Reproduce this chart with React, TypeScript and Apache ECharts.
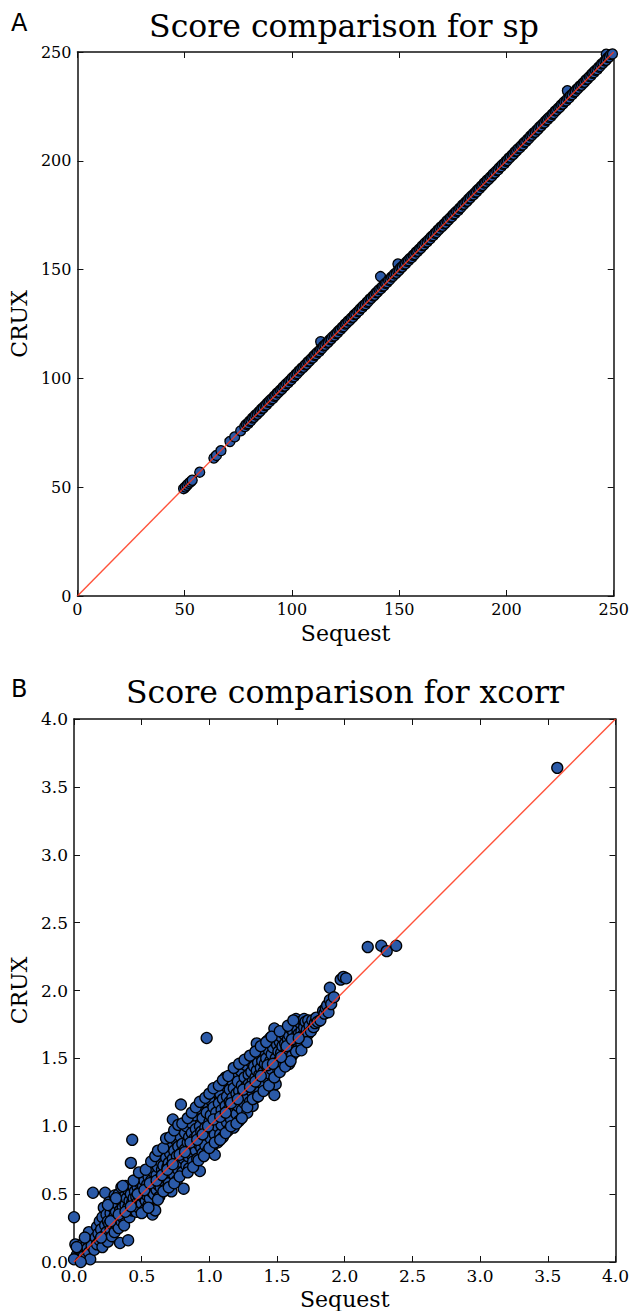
import React, { useEffect, useRef } from 'react';
import * as echarts from 'echarts';

// ---------- Data ----------
const panelLetters = ['A', 'B'];
const titles = ['Score comparison for sp', 'Score comparison for xcorr'];
const xName = 'Sequest';
const yName = 'CRUX';

const spRange = { min: 0, max: 250, interval: 50 };
const xcorrRange = { min: 0, max: 4, interval: 0.5 };

const spLine = [[0, 0], [250, 250]];
const xcorrLine = [[0, 0], [4, 4]];

const spPoints = [
  [49.5, 49.3], [50.3, 50.1], [51.1, 50.9], [51.9, 51.8], [52.7, 52.4], [53.5, 53.2], [57.0, 56.9],
  [63.6, 63.4], [64.8, 64.6], [66.9, 66.8], [71.1, 71.0], [73.3, 73.1], [76.1, 75.9],
  [113.4, 116.9], [141.3, 146.8], [149.4, 152.6], [228.4, 232.2], [246.5, 249.0],
  [78.0, 77.8], [78.7, 78.9], [79.5, 79.2], [80.2, 80.3], [80.9, 80.6], [81.6, 81.8], [82.3, 82.1],
  [83.0, 83.2], [83.8, 83.5], [84.5, 84.6], [85.2, 84.9], [85.9, 86.1], [86.6, 86.4], [87.4, 87.5],
  [88.1, 87.8], [88.8, 89.0], [89.5, 89.3], [90.2, 90.4], [91.0, 90.7], [91.7, 91.8], [92.4, 92.1],
  [93.1, 93.3], [93.8, 93.6], [94.6, 94.7], [95.3, 95.0], [96.0, 96.2], [96.7, 96.5], [97.4, 97.6],
  [98.2, 97.9], [98.9, 99.0], [99.6, 99.3], [100.3, 100.5], [101.0, 100.8], [101.8, 101.9],
  [102.5, 102.2], [103.2, 103.4], [103.9, 103.7], [104.6, 104.8], [105.4, 105.1], [106.1, 106.2],
  [106.8, 106.5], [107.5, 107.7], [108.2, 108.0], [109.0, 109.1], [109.7, 109.4], [110.4, 110.6],
  [111.1, 110.9], [111.8, 112.0], [112.6, 112.3], [113.3, 113.4], [114.0, 113.7], [114.7, 114.9],
  [115.4, 115.2], [116.2, 116.3], [116.9, 116.6], [117.6, 117.8], [118.3, 118.1], [119.0, 119.2],
  [119.8, 119.5], [120.5, 120.6], [121.2, 120.9], [121.9, 122.1], [122.6, 122.4], [123.4, 123.5],
  [124.1, 123.8], [124.8, 125.0], [125.5, 125.3], [126.2, 126.4], [127.0, 126.7], [127.7, 127.8],
  [128.4, 128.1], [129.1, 129.3], [129.8, 129.6], [130.6, 130.7], [131.3, 131.0], [132.0, 132.2],
  [132.7, 132.5], [133.4, 133.6], [134.2, 133.9], [134.9, 135.0], [135.6, 135.3], [136.3, 136.5],
  [137.0, 136.8], [137.8, 137.9], [138.5, 138.2], [139.2, 139.4], [139.9, 139.7], [140.6, 140.8],
  [141.4, 141.1], [142.1, 142.2], [142.8, 142.5], [143.5, 143.7], [144.2, 144.0], [145.0, 145.1],
  [145.7, 145.4], [146.4, 146.6], [147.1, 146.9], [147.8, 148.0], [148.6, 148.3], [149.3, 149.4],
  [150.0, 149.7], [150.7, 150.9], [151.4, 151.2], [152.2, 152.3], [152.9, 152.6], [153.6, 153.8],
  [154.3, 154.1], [155.0, 155.2], [155.8, 155.5], [156.5, 156.6], [157.2, 156.9], [157.9, 158.1],
  [158.6, 158.4], [159.4, 159.5], [160.1, 159.8], [160.8, 161.0], [161.5, 161.3], [162.2, 162.4],
  [163.0, 162.7], [163.7, 163.8], [164.4, 164.1], [165.1, 165.3], [165.8, 165.6], [166.6, 166.7],
  [167.3, 167.0], [168.0, 168.2], [168.7, 168.5], [169.4, 169.6], [170.2, 169.9], [170.9, 171.0],
  [171.6, 171.3], [172.3, 172.5], [173.0, 172.8], [173.8, 173.9], [174.5, 174.2], [175.2, 175.4],
  [175.9, 175.7], [176.6, 176.8], [177.4, 177.1], [178.1, 178.2], [178.8, 178.5], [179.5, 179.7],
  [180.2, 180.0], [181.0, 181.1], [181.7, 181.4], [182.4, 182.6], [183.1, 182.9], [183.8, 184.0],
  [184.6, 184.3], [185.3, 185.4], [186.0, 185.7], [186.7, 186.9], [187.4, 187.2], [188.2, 188.3],
  [188.9, 188.6], [189.6, 189.8], [190.3, 190.1], [191.0, 191.2], [191.8, 191.5], [192.5, 192.6],
  [193.2, 192.9], [193.9, 194.1], [194.6, 194.4], [195.4, 195.5], [196.1, 195.8], [196.8, 197.0],
  [197.5, 197.3], [198.2, 198.4], [199.0, 198.7], [199.7, 199.8], [200.4, 200.1], [201.1, 201.3],
  [201.8, 201.6], [202.6, 202.7], [203.3, 203.0], [204.0, 204.2], [204.7, 204.5], [205.4, 205.6],
  [206.2, 205.9], [206.9, 207.0], [207.6, 207.3], [208.3, 208.5], [209.0, 208.8], [209.8, 209.9],
  [210.5, 210.2], [211.2, 211.4], [211.9, 211.7], [212.6, 212.8], [213.4, 213.1], [214.1, 214.2],
  [214.8, 214.5], [215.5, 215.7], [216.2, 216.0], [217.0, 217.1], [217.7, 217.4], [218.4, 218.6],
  [219.1, 218.9], [219.8, 220.0], [220.6, 220.3], [221.3, 221.4], [222.0, 221.7], [222.7, 222.9],
  [223.4, 223.2], [224.2, 224.3], [224.9, 224.6], [225.6, 225.8], [226.3, 226.1], [227.0, 227.2],
  [227.8, 227.5], [228.5, 228.6], [229.2, 228.9], [229.9, 230.1], [230.6, 230.4], [231.4, 231.5],
  [232.1, 231.8], [232.8, 233.0], [233.5, 233.3], [234.2, 234.4], [235.0, 234.7], [235.7, 235.8],
  [236.4, 236.1], [237.1, 237.3], [237.8, 237.6], [238.6, 238.7], [239.3, 239.0], [240.0, 240.2],
  [240.7, 240.5], [241.4, 241.6], [242.2, 241.9], [242.9, 243.0], [243.6, 243.3], [244.3, 244.5],
  [245.0, 244.8], [245.8, 245.9], [246.5, 246.2], [247.2, 247.4], [247.9, 247.7], [248.6, 248.8],
  [249.4, 249.1],
];

const xcorrPoints = [
  [0.00, 0.33], [0.01, 0.13], [0.02, 0.05], [0.03, 0.10], [0.04, 0.02], [0.05, 0.12], [0.06, 0.08],
  [0.07, 0.04], [0.08, 0.11], [0.09, 0.03], [0.10, 0.10], [0.11, 0.07], [0.12, 0.02], [0.12, 0.16],
  [0.13, 0.12], [0.14, 0.20], [0.15, 0.09], [0.11, 0.22], [0.14, 0.51], [0.08, 0.18], [0.02, 0.11],
  [0.00, 0.02], [0.05, 0.00],
  [0.16, 0.18], [0.17, 0.26], [0.17, 0.13], [0.18, 0.21], [0.19, 0.30], [0.19, 0.16], [0.20, 0.24],
  [0.21, 0.11], [0.21, 0.33], [0.22, 0.19], [0.22, 0.40], [0.23, 0.27], [0.23, 0.51], [0.24, 0.22],
  [0.24, 0.35], [0.25, 0.30], [0.25, 0.15], [0.26, 0.28], [0.26, 0.44], [0.27, 0.24], [0.27, 0.36],
  [0.28, 0.31], [0.28, 0.19], [0.29, 0.40], [0.29, 0.27], [0.30, 0.34], [0.30, 0.22], [0.30, 0.49],
  [0.31, 0.37], [0.31, 0.28], [0.32, 0.43], [0.32, 0.32], [0.33, 0.25], [0.33, 0.50], [0.34, 0.38],
  [0.34, 0.14], [0.35, 0.45], [0.35, 0.30], [0.35, 0.55], [0.36, 0.40], [0.36, 0.33], [0.37, 0.48],
  [0.37, 0.27], [0.38, 0.42], [0.38, 0.56], [0.39, 0.36], [0.39, 0.47], [0.40, 0.16], [0.40, 0.40],
  [0.40, 0.53], [0.41, 0.33], [0.41, 0.45], [0.42, 0.73], [0.42, 0.50], [0.43, 0.90], [0.43, 0.38],
  [0.43, 0.44], [0.44, 0.55], [0.44, 0.47], [0.45, 0.41], [0.45, 0.52],
  [0.46, 0.37], [0.46, 0.48], [0.47, 0.55], [0.47, 0.44], [0.48, 0.51], [0.48, 0.40], [0.49, 0.46],
  [0.49, 0.58], [0.50, 0.50], [0.50, 0.43], [0.51, 0.56], [0.51, 0.48], [0.52, 0.38], [0.52, 0.60],
  [0.53, 0.52], [0.53, 0.45], [0.54, 0.57], [0.54, 0.49], [0.55, 0.63], [0.55, 0.42], [0.56, 0.54],
  [0.56, 0.47], [0.57, 0.60], [0.57, 0.52], [0.58, 0.35], [0.58, 0.57], [0.59, 0.50], [0.59, 0.66],
  [0.60, 0.38], [0.60, 0.59],
  [0.61, 0.64], [0.61, 0.53], [0.62, 0.70], [0.62, 0.57], [0.63, 0.48], [0.63, 0.75], [0.64, 0.62],
  [0.64, 0.55], [0.65, 0.68], [0.65, 0.80], [0.66, 0.60], [0.66, 0.71], [0.67, 0.53], [0.67, 0.65],
  [0.68, 0.77], [0.68, 0.62], [0.69, 0.70], [0.69, 0.86], [0.70, 0.58], [0.70, 0.73], [0.71, 0.66],
  [0.71, 0.80], [0.72, 0.52], [0.72, 0.71], [0.73, 1.05], [0.73, 0.76], [0.74, 0.64], [0.74, 0.82],
  [0.75, 0.70], [0.75, 0.90],
  [0.76, 0.60], [0.76, 0.78], [0.77, 0.85], [0.77, 0.68], [0.78, 0.74], [0.78, 0.93], [0.79, 1.16],
  [0.79, 0.80], [0.80, 0.66], [0.80, 0.87], [0.81, 0.54], [0.81, 0.76], [0.82, 0.95], [0.82, 0.83],
  [0.83, 0.71], [0.83, 1.00], [0.84, 0.88], [0.84, 0.78], [0.85, 0.92], [0.85, 0.69], [0.86, 0.84],
  [0.86, 1.03], [0.87, 0.79], [0.87, 0.95], [0.88, 0.87], [0.88, 0.74], [0.89, 1.08], [0.89, 0.91],
  [0.90, 0.82], [0.90, 0.98],
  [0.91, 0.76], [0.91, 0.93], [0.92, 1.13], [0.92, 0.87], [0.93, 0.67], [0.93, 1.00], [0.94, 0.84],
  [0.94, 0.96], [0.95, 1.06], [0.95, 0.80], [0.96, 0.92], [0.96, 1.18], [0.97, 0.99], [0.97, 0.86],
  [0.98, 1.65], [0.98, 1.10], [0.99, 0.95], [0.99, 0.82], [1.00, 1.03], [1.00, 1.20], [1.01, 0.91],
  [1.01, 1.08], [1.02, 0.98], [1.02, 0.85], [1.03, 1.14], [1.03, 1.02], [1.04, 0.79], [1.04, 0.94],
  [1.05, 1.10], [1.05, 1.25],
  [1.06, 1.00], [1.06, 0.88], [1.07, 1.17], [1.07, 1.06], [1.08, 0.94], [1.08, 1.24], [1.09, 1.12],
  [1.09, 1.01], [1.10, 1.20], [1.10, 0.92], [1.11, 1.08], [1.11, 1.30], [1.12, 1.36], [1.12, 1.15],
  [1.13, 1.03], [1.13, 1.22], [1.14, 0.97], [1.14, 1.12], [1.15, 1.27], [1.15, 1.18], [1.16, 1.05],
  [1.16, 1.34], [1.17, 1.21], [1.17, 1.12], [1.18, 0.99], [1.18, 1.28], [1.19, 1.16], [1.19, 1.40],
  [1.20, 1.09], [1.20, 1.24],
  [1.21, 1.33], [1.21, 1.15], [1.22, 1.26], [1.22, 1.04], [1.23, 1.20], [1.23, 1.41], [1.24, 1.30],
  [1.24, 1.12], [1.25, 1.47], [1.25, 1.24], [1.26, 1.17], [1.26, 1.36], [1.27, 1.29], [1.27, 1.45],
  [1.28, 1.10], [1.28, 1.22], [1.29, 1.38], [1.29, 1.31], [1.30, 1.18], [1.30, 1.48], [1.31, 1.26],
  [1.31, 1.40], [1.32, 1.33], [1.32, 1.15], [1.33, 1.44], [1.33, 1.28], [1.34, 1.36], [1.34, 1.21],
  [1.35, 1.61], [1.35, 1.41],
  [1.36, 1.30], [1.36, 1.47], [1.37, 1.38], [1.37, 1.25], [1.38, 1.52], [1.38, 1.43], [1.39, 1.34],
  [1.39, 1.48], [1.40, 1.40], [1.40, 1.30], [1.41, 1.55], [1.41, 1.46], [1.42, 1.36], [1.42, 1.50],
  [1.43, 1.63], [1.43, 1.43], [1.44, 1.39], [1.44, 1.56], [1.45, 1.65], [1.45, 1.48], [1.46, 1.42],
  [1.46, 1.53], [1.47, 1.33], [1.47, 1.58], [1.48, 1.72], [1.48, 1.23], [1.49, 1.50], [1.49, 1.31],
  [1.50, 1.45], [1.50, 1.60],
  [1.51, 1.55], [1.51, 1.41], [1.52, 1.62], [1.52, 1.49], [1.53, 1.66], [1.53, 1.54], [1.54, 1.45],
  [1.54, 1.59], [1.55, 1.68], [1.55, 1.52], [1.56, 1.61], [1.56, 1.48], [1.57, 1.57], [1.57, 1.70],
  [1.58, 1.64], [1.58, 1.53], [1.59, 1.46], [1.59, 1.67], [1.60, 1.58], [1.60, 1.72], [1.61, 1.62],
  [1.61, 1.52], [1.62, 1.69], [1.62, 1.60], [1.63, 1.75], [1.63, 1.57], [1.64, 1.66], [1.64, 1.79],
  [1.65, 1.62], [1.65, 1.71],
  [1.66, 1.58], [1.66, 1.68], [1.67, 1.76], [1.67, 1.64], [1.68, 1.70], [1.68, 1.60], [1.69, 1.78],
  [1.69, 1.67], [1.70, 1.73], [1.70, 1.79], [1.71, 1.66], [1.71, 1.77], [1.72, 1.71], [1.73, 1.68],
  [1.73, 1.78], [1.74, 1.74], [1.75, 1.70], [1.76, 1.78], [1.77, 1.73], [1.78, 1.76], [1.79, 1.80],
  [1.80, 1.77],
  [1.82, 1.78], [1.84, 1.85], [1.85, 1.83], [1.86, 1.87], [1.87, 1.89], [1.88, 1.84], [1.89, 1.93],
  [1.89, 2.02], [1.90, 1.90], [1.92, 1.95], [1.97, 2.08], [1.99, 2.10], [2.01, 2.09], [2.17, 2.32],
  [2.27, 2.33], [2.31, 2.29], [2.38, 2.33], [3.57, 3.64],
  // upper side of the cloud
  [0.25, 0.42], [0.31, 0.47], [0.36, 0.56], [0.44, 0.60], [0.48, 0.66], [0.53, 0.68], [0.57, 0.74],
  [0.60, 0.78], [0.62, 0.82], [0.66, 0.84], [0.68, 0.91], [0.71, 0.92], [0.74, 0.97], [0.77, 1.01],
  [0.80, 1.02], [0.84, 1.06], [0.87, 1.10], [0.90, 1.14], [0.93, 1.18], [0.97, 1.21], [1.00, 1.24],
  [1.03, 1.28], [1.07, 1.30], [1.10, 1.34], [1.14, 1.37], [1.18, 1.43], [1.22, 1.46], [1.26, 1.49],
  [1.30, 1.52], [1.34, 1.55], [1.38, 1.59], [1.42, 1.62], [1.46, 1.66], [1.52, 1.70], [1.58, 1.74],
  [1.62, 1.78],
  // lower side of the cloud
  [0.50, 0.36], [0.55, 0.40], [0.62, 0.46], [0.66, 0.52], [0.70, 0.55], [0.74, 0.58], [0.78, 0.63],
  [0.84, 0.66], [0.88, 0.70], [0.92, 0.75], [0.96, 0.78], [1.00, 0.84], [1.04, 0.88], [1.08, 0.90],
  [1.12, 0.95], [1.16, 1.00], [1.20, 1.02], [1.24, 1.06], [1.28, 1.14], [1.32, 1.20], [1.36, 1.22],
  [1.40, 1.26], [1.44, 1.30], [1.48, 1.36], [1.52, 1.40], [1.56, 1.44], [1.60, 1.48], [1.64, 1.55],
  [1.68, 1.56], [1.72, 1.62],
  // centre of the cloud
  [0.20, 0.18], [0.27, 0.30], [0.33, 0.35], [0.38, 0.37], [0.42, 0.41], [0.47, 0.50], [0.52, 0.53],
  [0.56, 0.58], [0.61, 0.60], [0.65, 0.64], [0.69, 0.68], [0.73, 0.72], [0.78, 0.79], [0.82, 0.81],
  [0.86, 0.88], [0.91, 0.90], [0.95, 0.94], [0.99, 1.00], [1.03, 1.05], [1.08, 1.07], [1.12, 1.10],
  [1.16, 1.17], [1.21, 1.20], [1.25, 1.27], [1.30, 1.29], [1.34, 1.33], [1.38, 1.37], [1.43, 1.45],
  [1.47, 1.46], [1.53, 1.51], [1.57, 1.59], [1.61, 1.64], [1.66, 1.65],
];

// ---------- Styles ----------
const SERIF = 'DejaVu Serif';
const SANS = 'DejaVu Sans';
const AXIS_COLOR = '#111';
const POINT_COLOR = '#2b5aa8';
const LINE_COLOR = '#ff3418';

function makeAxes(
  kind: 'x' | 'y',
  gridIndex: number,
  range: { min: number; max: number; interval: number },
  fmt: (v: number) => string,
  labelSize: number,
) {
  const main: any = {
    type: 'value',
    gridIndex,
    min: range.min,
    max: range.max,
    interval: range.interval,
    position: kind === 'x' ? 'bottom' : 'left',
    name: kind === 'x' ? xName : yName,
    nameLocation: 'middle',
    nameGap: kind === 'x' ? 26 : 44,
    nameTextStyle: { fontFamily: SERIF, fontSize: 22, color: '#000' },
    axisLine: { show: true, onZero: false, lineStyle: { color: AXIS_COLOR, width: 1.5 } },
    axisTick: { show: true, inside: true, length: 6, lineStyle: { color: AXIS_COLOR, width: 1 } },
    axisLabel: {
      show: true,
      fontFamily: SERIF,
      fontSize: labelSize,
      color: '#000',
      margin: kind === 'x' ? 5 : 6,
      formatter: fmt,
    },
    splitLine: { show: false },
  };
  const opp: any = {
    type: 'value',
    gridIndex,
    min: range.min,
    max: range.max,
    interval: range.interval,
    position: kind === 'x' ? 'top' : 'right',
    axisLine: { show: true, onZero: false, lineStyle: { color: AXIS_COLOR, width: 1.5 } },
    axisTick: { show: true, inside: true, length: 6, lineStyle: { color: AXIS_COLOR, width: 1 } },
    axisLabel: { show: false },
    splitLine: { show: false },
  };
  return [main, opp];
}

export default function App() {
  const ref = useRef<HTMLDivElement>(null);

  useEffect(() => {
    document.body.style.margin = '0';
    if (!ref.current) return;
    const chart = echarts.init(ref.current, undefined, { renderer: 'svg' });

    const fmtInt = (v: number) => String(v);
    const fmtDec = (v: number) => v.toFixed(1);

    const xAxes = [
      ...makeAxes('x', 0, spRange, fmtInt, 16),
      ...makeAxes('x', 1, xcorrRange, fmtDec, 17),
    ];
    const yAxes = [
      ...makeAxes('y', 0, spRange, fmtInt, 16),
      ...makeAxes('y', 1, xcorrRange, fmtDec, 17),
    ];

    const scatterStyle = {
      color: POINT_COLOR,
      borderColor: '#000',
      borderWidth: 1.3,
      opacity: 1,
    };
    const titleStyle = { fontFamily: SERIF, fontSize: 31.5, fontWeight: 'normal', color: '#000' };

    chart.setOption({
      animation: false,
      backgroundColor: '#fff',
      title: [
        { text: titles[0], left: 339, top: 5, textAlign: 'center', textStyle: titleStyle },
        { text: titles[1], left: 340, top: 671, textAlign: 'center', textStyle: titleStyle },
      ],
      graphic: [
        {
          type: 'text',
          left: 11,
          top: 11,
          style: { text: panelLetters[0], fontFamily: SANS, fontSize: 24, fill: '#000' },
        },
        {
          type: 'text',
          left: 11,
          top: 677,
          style: { text: panelLetters[1], fontFamily: SANS, fontSize: 24, fill: '#000' },
        },
      ],
      grid: [
        { left: 72, top: 52, width: 545, height: 544, containLabel: false },
        { left: 72, top: 719, width: 545, height: 545, containLabel: false },
      ],
      xAxis: xAxes,
      yAxis: yAxes,
      series: [
        {
          type: 'scatter',
          xAxisIndex: 0,
          yAxisIndex: 0,
          data: spPoints,
          symbol: 'circle',
          symbolSize: 10,
          itemStyle: scatterStyle,
          z: 2,
          silent: true,
        },
        {
          type: 'line',
          xAxisIndex: 0,
          yAxisIndex: 0,
          data: spLine,
          symbol: 'none',
          lineStyle: { color: LINE_COLOR, width: 1.4, opacity: 0.85 },
          z: 3,
          silent: true,
        },
        {
          type: 'scatter',
          xAxisIndex: 2,
          yAxisIndex: 2,
          data: xcorrPoints,
          symbol: 'circle',
          symbolSize: 11,
          itemStyle: scatterStyle,
          z: 2,
          silent: true,
        },
        {
          type: 'line',
          xAxisIndex: 2,
          yAxisIndex: 2,
          data: xcorrLine,
          symbol: 'none',
          lineStyle: { color: LINE_COLOR, width: 1.4, opacity: 0.85 },
          z: 3,
          silent: true,
        },
      ],
    });

    return () => {
      chart.dispose();
    };
  }, []);

  return <div ref={ref} style={{ width: 632, height: 1311 }} />;
}
